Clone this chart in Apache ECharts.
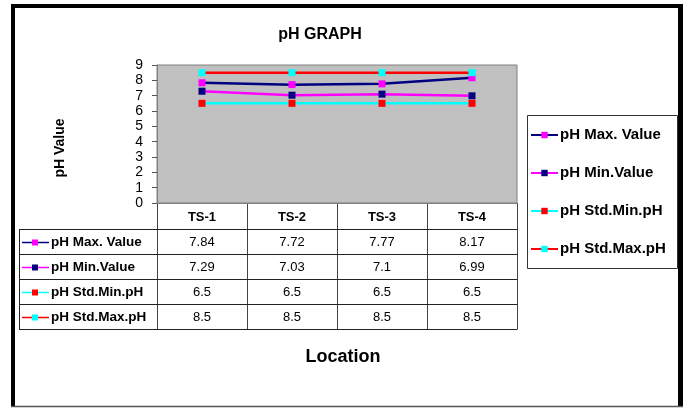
<!DOCTYPE html>
<html>
<head>
<meta charset="utf-8">
<script src="https://cdn.jsdelivr.net/npm/echarts@6/dist/echarts.min.js"></script>
<style>
  html, body { margin: 0; padding: 0; background: #ffffff; }
  #chart { width: 688px; height: 409px; }
</style>
</head>
<body>
<div id="chart"></div>
<script>
// pH readings per sampling location
const locations = ['TS-1', 'TS-2', 'TS-3', 'TS-4'];
const seriesNames = ['pH Max. Value', 'pH Min.Value', 'pH Std.Min.pH', 'pH Std.Max.pH'];
const phMax = [7.84, 7.72, 7.77, 8.17];
const phMin = [7.29, 7.03, 7.1, 6.99];
const phStdMin = [6.5, 6.5, 6.5, 6.5];
const phStdMax = [8.5, 8.5, 8.5, 8.5];
const seriesValues = [phMax, phMin, phStdMin, phStdMax];

// styling: line colour and marker colour per series
const lineColors = ['#000080', '#FF00FF', '#00FFFF', '#FF0000'];
const markerColors = ['#FF00FF', '#000080', '#FF0000', '#00FFFF'];

const FONT = "'Liberation Sans', Arial, sans-serif";

// plot area geometry
const gridLeft = 157, gridTop = 65, gridWidth = 360, gridHeight = 138;
const colWidth = gridWidth / locations.length;
const tableLeft = 19;
const headerBottom = 229;
const rowHeight = 25;

const chart = echarts.init(document.getElementById('chart'), null, { renderer: 'canvas' });

const graphics = [];

// outer frame
graphics.push(
  { type: 'line', shape: { x1: 13, y1: 4, x2: 13, y2: 407 }, style: { stroke: '#000', lineWidth: 4 } },
  { type: 'line', shape: { x1: 11, y1: 6, x2: 683, y2: 6 }, style: { stroke: '#000', lineWidth: 4 } },
  { type: 'line', shape: { x1: 680.5, y1: 4, x2: 680.5, y2: 407 }, style: { stroke: '#000', lineWidth: 5 } },
  { type: 'line', shape: { x1: 11, y1: 406.5, x2: 683, y2: 406.5 }, style: { stroke: '#555', lineWidth: 1.5 } }
);

// legend frame
graphics.push({ type: 'rect', shape: { x: 527.5, y: 115.5, width: 150, height: 153 },
  style: { fill: 'none', stroke: '#333', lineWidth: 1 }, z: 1 });

// data table: vertical lines
for (let i = 0; i <= locations.length; i++) {
  const x = gridLeft + i * colWidth + 0.5;
  graphics.push({ type: 'line', shape: { x1: x, y1: gridTop + gridHeight, x2: x, y2: headerBottom + rowHeight * seriesNames.length },
    style: { stroke: '#444', lineWidth: 1 } });
}
graphics.push({ type: 'line', shape: { x1: tableLeft + 0.5, y1: headerBottom, x2: tableLeft + 0.5, y2: headerBottom + rowHeight * seriesNames.length },
  style: { stroke: '#222', lineWidth: 1 } });
// horizontal lines
for (let r = 0; r <= seriesNames.length; r++) {
  const y = headerBottom + r * rowHeight + 0.5;
  graphics.push({ type: 'line', shape: { x1: tableLeft, y1: y, x2: gridLeft + gridWidth + 0.5, y2: y },
    style: { stroke: '#222', lineWidth: 1 } });
}
// header row labels
locations.forEach((loc, i) => {
  graphics.push({ type: 'text', x: gridLeft + (i + 0.5) * colWidth, y: (gridTop + gridHeight + headerBottom) / 2 + 1,
    style: { text: loc, font: 'bold 13px ' + FONT, fill: '#000', align: 'center', verticalAlign: 'middle' } });
});
// rows: legend key, name and values
seriesNames.forEach((name, r) => {
  const cy = headerBottom + (r + 0.5) * rowHeight + 1;
  graphics.push(
    { type: 'line', shape: { x1: tableLeft + 3, y1: cy, x2: tableLeft + 30, y2: cy }, style: { stroke: lineColors[r], lineWidth: 1.5 } },
    { type: 'rect', shape: { x: tableLeft + 13, y: cy - 3, width: 6, height: 6 }, style: { fill: markerColors[r] } },
    { type: 'text', x: tableLeft + 32, y: cy, style: { text: name, font: 'bold 13.5px ' + FONT, fill: '#000', verticalAlign: 'middle' } }
  );
  seriesValues[r].forEach((v, i) => {
    graphics.push({ type: 'text', x: gridLeft + (i + 0.5) * colWidth, y: cy,
      style: { text: String(v), font: '13px ' + FONT, fill: '#000', align: 'center', verticalAlign: 'middle' } });
  });
});
// chart title, axis titles
graphics.push(
  { type: 'text', x: 320, y: 35,
    style: { text: 'pH GRAPH', font: 'bold 16px ' + FONT, fill: '#000', align: 'center', verticalAlign: 'middle' } },
  { type: 'text', x: 60, y: 148, rotation: Math.PI / 2,
    style: { text: 'pH Value', font: 'bold 14px ' + FONT, fill: '#000', align: 'center', verticalAlign: 'middle' } },
  { type: 'text', x: 343, y: 357,
    style: { text: 'Location', font: 'bold 18px ' + FONT, fill: '#000', align: 'center', verticalAlign: 'middle' } }
);

const option = {
  animation: false,
  backgroundColor: '#ffffff',
  legend: {
    orient: 'vertical', left: 527, top: 115,
    padding: [12, 8, 14, 3],
    itemGap: 22, itemWidth: 27, itemHeight: 8,
    textStyle: { fontFamily: FONT, fontWeight: 'bold', fontSize: 15, lineHeight: 16, color: '#000', padding: [0, 0, 0, -3] },
    data: seriesNames
  },
  grid: {
    left: gridLeft, top: gridTop, width: gridWidth, height: gridHeight,
    show: true, backgroundColor: '#C0C0C0', borderColor: '#808080', borderWidth: 1
  },
  xAxis: {
    type: 'category', data: locations, boundaryGap: true,
    axisLine: { show: true, lineStyle: { color: '#808080' } },
    axisTick: { show: false }, axisLabel: { show: false }, splitLine: { show: false }
  },
  yAxis: {
    type: 'value', min: 0, max: 9, interval: 1,
    axisLine: { show: true, lineStyle: { color: '#808080' } },
    axisTick: { show: true, length: 5, lineStyle: { color: '#555' } },
    axisLabel: { fontFamily: FONT, fontSize: 14, color: '#000', margin: 14 },
    splitLine: { show: false }
  },
  series: seriesNames.map((name, k) => ({
    name: name, type: 'line', data: seriesValues[k],
    symbol: 'rect', symbolSize: 7,
    lineStyle: { color: lineColors[k], width: 2.5 },
    itemStyle: { color: markerColors[k] },
    emphasis: { disabled: true }
  })),
  graphic: graphics
};

chart.setOption(option);
</script>
</body>
</html>
